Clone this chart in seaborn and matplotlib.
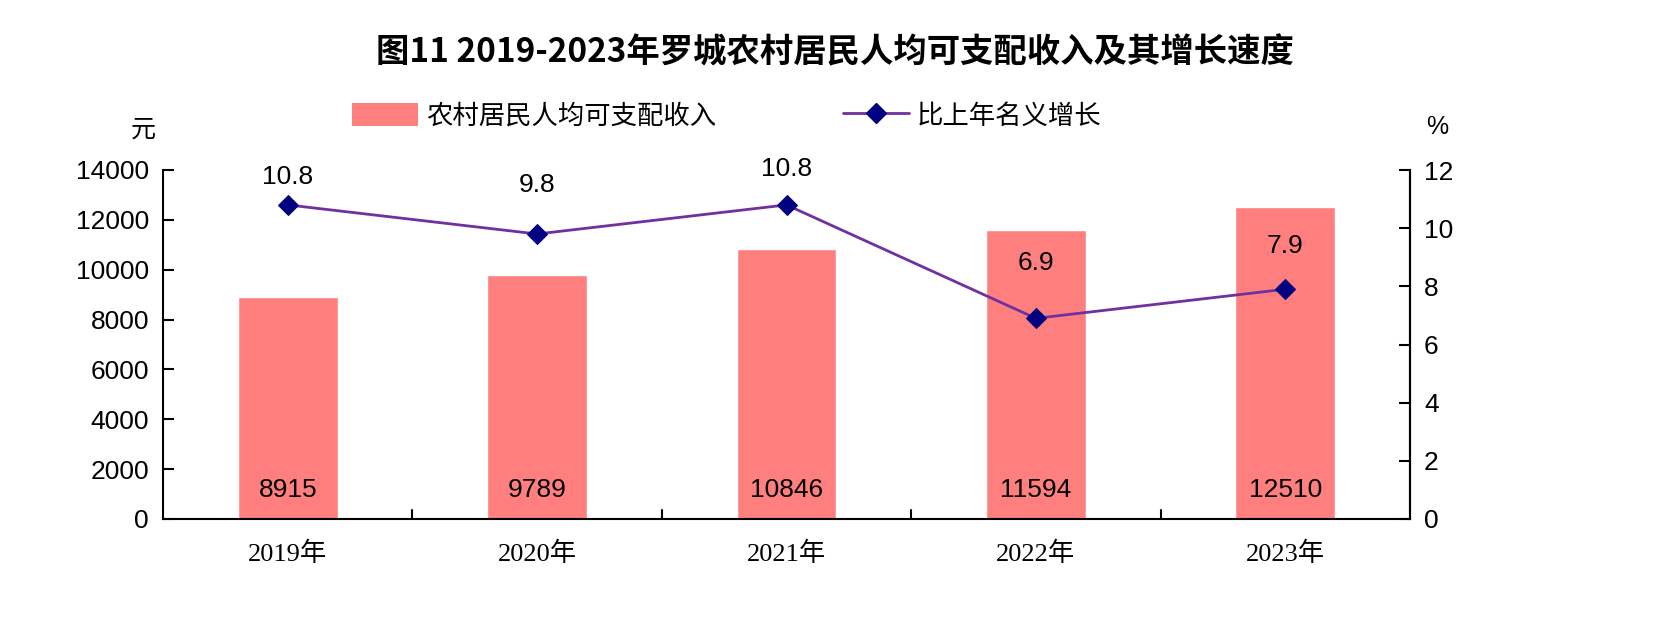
import matplotlib
matplotlib.use('Agg')
import matplotlib.pyplot as plt
import seaborn as sns
import pandas as pd
from matplotlib.patches import Patch
from matplotlib.lines import Line2D

years = ['2019年', '2020年', '2021年', '2022年', '2023年']
income = [8915, 9789, 10846, 11594, 12510]
growth = [10.8, 9.8, 10.8, 6.9, 7.9]
label_offsets = [20, 35, 26, 40, 31]  # points above the marker

sns.set_style('white')
plt.rcParams['font.family'] = ['Liberation Sans', 'Noto Sans CJK SC']
plt.rcParams['text.color'] = 'black'
plt.rcParams['xtick.color'] = 'black'
plt.rcParams['ytick.color'] = 'black'

bar_color = '#FF7F7F'
line_color = '#7030A0'
marker_color = '#000080'

df = pd.DataFrame({'year': years, 'income': income, 'growth': growth})

fig = plt.figure(figsize=(16.55, 6.38), dpi=100)
ax = fig.add_axes([163 / 1655, 1 - 519 / 638, (1410 - 163) / 1655, (519 - 170) / 638])

sns.barplot(data=df, x='year', y='income', color=bar_color, width=0.4,
            saturation=1, ax=ax)
ax.set_ylim(0, 14000)
ax.set_xlim(-0.5, 4.5)
ax.set_yticks(range(0, 14001, 2000))
ax.set_xlabel('')
ax.set_ylabel('')
ax.tick_params(axis='y', labelsize=19, direction='in', length=8, width=1.5, pad=10)
ax.set_xticks(range(5))
ax.set_xticklabels(years, family=['Liberation Serif', 'Noto Sans CJK SC'], fontsize=19)
ax.tick_params(axis='x', length=0, pad=16)
# ticks between categories
for xb in [0.5, 1.5, 2.5, 3.5]:
    ax.plot([xb, xb], [0, 14000 * 0.025], color='black', lw=1.5, clip_on=False)

for i, v in enumerate(income):
    ax.text(i, 1150, str(v), ha='center', va='center', fontsize=19)

for side in ['left', 'bottom', 'right']:
    ax.spines[side].set_visible(True)
    ax.spines[side].set_color('black')
    ax.spines[side].set_linewidth(1.5)
ax.spines['top'].set_visible(False)

ax2 = ax.twinx()
sns.lineplot(x=list(range(5)), y=growth, ax=ax2, color=line_color, lw=2,
             marker='D', markersize=10, markerfacecolor=marker_color,
             markeredgecolor=marker_color)
ax2.set_ylim(0, 12)
ax2.set_yticks(range(0, 13, 2))
ax2.tick_params(axis='y', labelsize=19, direction='in', length=8, width=1.5, pad=10)
ax2.spines['top'].set_visible(False)
ax2.spines['right'].set_linewidth(1.5)
ax2.spines['right'].set_color('black')
ax2.spines['left'].set_visible(False)
ax2.spines['bottom'].set_visible(False)
for i, (g, off) in enumerate(zip(growth, label_offsets)):
    ax2.annotate(f'{g}', (i, g), xytext=(0, off), textcoords='offset points',
                 ha='center', va='center', fontsize=19)

fig.text(143 / 1655, 1 - 130 / 638, '元', ha='center', va='center', fontsize=18)
fig.text(1437 / 1655, 1 - 127 / 638, '%', ha='center', va='center', fontsize=18)

handles = [Patch(facecolor=bar_color, edgecolor='none', label='农村居民人均可支配收入'),
           Line2D([0], [0], color=line_color, lw=2, marker='D', markersize=10,
                  markerfacecolor=marker_color, markeredgecolor=marker_color,
                  label='比上年名义增长')]
fig.legend(handles=handles, loc='center', bbox_to_anchor=(727 / 1655, 1 - 116 / 638),
           ncol=2, frameon=False, handlelength=2.5, handleheight=1.0,
           handletextpad=0.3, columnspacing=4.8,
           prop={'family': ['Noto Sans CJK SC'], 'size': 19})

fig.text(835 / 1655, 1 - 53 / 638, '图11 2019-2023年罗城农村居民人均可支配收入及其增长速度',
         ha='center', va='center', fontsize=24, fontweight='bold',
         family=['Noto Sans CJK SC'])

fig.savefig('out.png', dpi=100)
